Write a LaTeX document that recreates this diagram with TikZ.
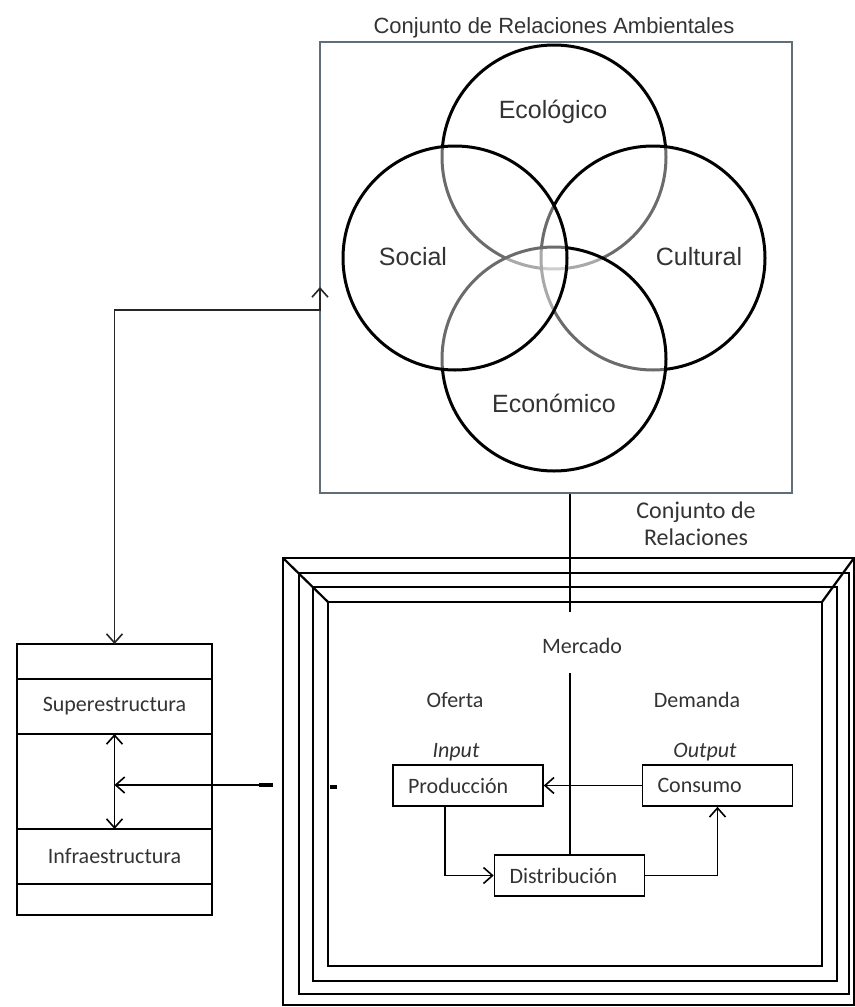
\documentclass[tikz,border=0pt]{standalone}
\usepackage{fontspec}
\setmainfont{Carlito}
\newfontfamily\arialf{Liberation Sans}
\usetikzlibrary{arrows.meta,positioning}
\definecolor{boxgray}{RGB}{96,110,122}
\definecolor{txtgray}{RGB}{51,51,51}

\begin{document}
\begin{tikzpicture}[x=0.5pt,y=-0.5pt,
  >={Straight Barb[length=4.5pt,width=8pt]},
  every node/.style={text=txtgray,font=\fontsize{11}{13}\selectfont},
  box/.style={draw=black,line width=0.8pt,text width=60pt,inner xsep=7.5pt,minimum height=20.5pt,align=left},
  row/.style={draw=black,line width=0.8pt,minimum width=97.5pt,outer sep=0pt,inner sep=0pt},
  ring/.style={draw=black,line width=1.5pt,fill=white,fill opacity=0.42},
  circ/.style={font=\arialf\fontsize{12.5}{14}\selectfont},
  frame/.style={draw=black,line width=1.1pt}]
  \useasboundingbox (0,0) rectangle (855,1007);

  \node (t) [draw=boxgray,line width=0.8pt,minimum width=236pt,minimum height=225.5pt,inner sep=0pt] at (556,267.5) {};
  \node (t0) [font=\arialf\fontsize{11}{13}\selectfont] at (554,28) {Conjunto de Relaciones Ambientales};

  \draw[ring] (554,157) circle[radius=56pt];
  \draw[ring] (653,258) circle[radius=56pt];
  \draw[ring] (554,359) circle[radius=56pt];
  \draw[ring] (455,258) circle[radius=56pt];

  \node (c1) [circ] at (553,112) {Ecológico};
  \node (c2) [circ] at (413,257) {Social};
  \node (c3) [circ] at (699,257) {Cultural};
  \node (c4) [circ] at (554,403) {Económico};

  \foreach \a/\b/\c/\d in {283/558/854/1005, 299/573/849/994, 313/587/837/981, 328/602/822/966}
    \draw[frame] (\a,\b) rectangle (\c,\d);
  \draw[frame] (283,558) -- (328,602);
  \draw[frame] (854,558) -- (822,602);

  \node (r) [align=center,font=\fontsize{12}{13.5}\selectfont] at (696,524) {Conjunto de\\Relaciones};

  \node (m) at (582,646) {Mercado};
  \node (o1) at (455,700) {Oferta};
  \node (o2) at (697,700) {Demanda};
  \node (i1) at (456,752) {\itshape Input};
  \node (i2) at (705,752) {\itshape Output};

  \node (p1) [box] at (468,785.5) {Producción};
  \node (p2) [box] at (717.5,785.5) {Consumo};
  \node (p3) [box] at (569.5,875.5) {Distribución};

  \coordinate (m1) at (570,612);
  \coordinate (m2) at (570,673);
  \draw[line width=0.8pt] (t.south -| m1) -- (m1);
  \draw[line width=0.8pt] (m2) -- (p3.north -| m2);

  \draw[->,line width=0.8pt] (p2) -- (p1);
  \draw[->,line width=0.8pt] ([xshift=-11.5pt]p1.south) |- (p3);
  \draw[->,line width=0.8pt] (p3) -| (p2);

  \node (l1) [row,minimum height=17.5pt] at (114.5,661.5) {};
  \node (l2) [row,minimum height=27.5pt,below=0pt of l1] {Superestructura};
  \node (l3) [row,minimum height=47.5pt,below=0pt of l2] {};
  \node (l4) [row,minimum height=27.5pt,below=0pt of l3] {Infraestructura};
  \node (l5) [row,minimum height=15.5pt,below=0pt of l4] {};

  \draw[<->,line width=0.8pt] (l3.north) -- (l3.south);

  \coordinate (d0) at (259,785);
  \coordinate (d1) at (273,785);
  \coordinate (d2) at (330,787);
  \coordinate (d3) at (337,787);
  \draw[->,line width=0.8pt] (d1) -- (d1 -| l3.center);
  \draw[line width=1.6pt] (d0) -- (d1);
  \draw[line width=1.6pt] (d2) -- (d3);

  \coordinate (k1) at (320,310);
  \coordinate (k2) at (320,287);
  \draw[<->,draw=black!85,line width=0.8pt] (l1.north) |- (k1) -- (k2);
\end{tikzpicture}
\end{document}
